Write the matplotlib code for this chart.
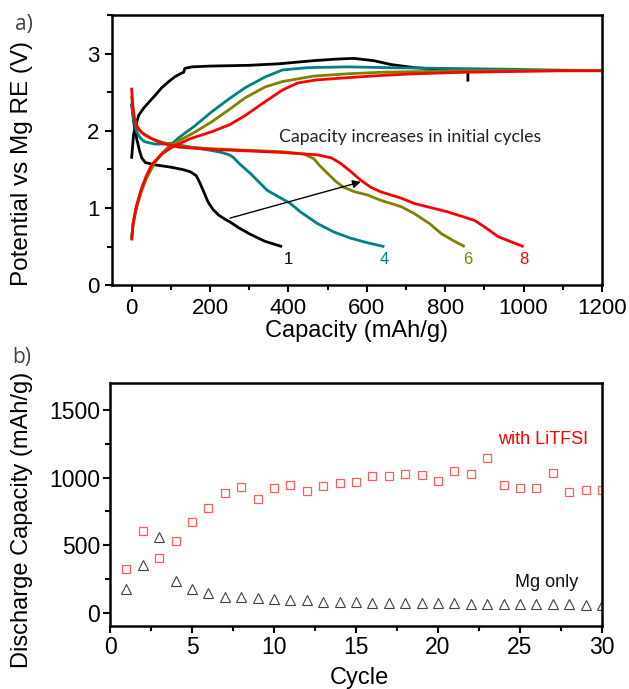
import numpy as np
import matplotlib.pyplot as plt
from matplotlib.ticker import MultipleLocator

# ============================================================
# DATA
# ============================================================

# ---- panel a : voltage profiles, capacity (mAh/g) / potential (V)

c1_charge_cap = [0, 3, 5, 10, 18, 30, 44, 60, 77, 95, 110, 128, 133, 136, 145, 154,
                 200, 300, 377, 420, 464, 520, 567, 618, 662, 721, 780, 858, 858]
c1_charge_v = [1.64, 1.82, 1.95, 2.06, 2.2, 2.29, 2.37, 2.46, 2.56, 2.64, 2.7, 2.75, 2.76,
               2.81, 2.82, 2.83, 2.84, 2.85, 2.87, 2.89, 2.91, 2.93, 2.94, 2.91, 2.86,
               2.82, 2.8, 2.79, 2.64]
c1_dis_cap = [0, 6, 13, 20, 26, 35, 60, 100, 130, 150, 165, 174, 185, 195, 208, 222,
              237, 251, 275, 303, 340, 384]
c1_dis_v = [2.35, 2.1, 1.9, 1.75, 1.65, 1.59, 1.56, 1.53, 1.5, 1.47, 1.42, 1.33, 1.2,
            1.08, 0.98, 0.91, 0.86, 0.82, 0.74, 0.66, 0.57, 0.5]

c4_charge_cap = [0, 4, 12, 25, 37, 60, 80, 100, 120, 160, 205, 250, 290, 341, 385,
                 450, 551, 650, 800, 950, 1064, 1200]
c4_charge_v = [0.6, 0.8, 1.0, 1.22, 1.38, 1.6, 1.72, 1.82, 1.91, 2.06, 2.25, 2.42, 2.56,
               2.7, 2.79, 2.82, 2.83, 2.82, 2.81, 2.8, 2.79, 2.78]
c4_dis_cap = [0, 5, 13, 22, 33, 59, 80, 103, 130, 162, 200, 230, 249, 259, 274, 303,
              346, 405, 431, 474, 516, 559, 602, 645]
c4_dis_v = [2.36, 2.15, 1.99, 1.91, 1.86, 1.83, 1.83, 1.84, 1.81, 1.78, 1.75, 1.72, 1.69,
            1.66, 1.58, 1.45, 1.23, 1.06, 0.95, 0.8, 0.69, 0.61, 0.55, 0.5]

c6_charge_cap = [0, 4, 12, 25, 37, 60, 80, 100, 120, 160, 205, 250, 290, 341, 385,
                 464, 550, 636, 750, 892, 1050, 1200]
c6_charge_v = [0.6, 0.8, 1.0, 1.22, 1.38, 1.6, 1.72, 1.8, 1.87, 1.98, 2.12, 2.28, 2.43,
               2.57, 2.64, 2.71, 2.74, 2.76, 2.77, 2.78, 2.78, 2.78]
c6_dis_cap = [0, 5, 12, 25, 51, 80, 120, 200, 290, 385, 440, 465, 480, 500, 520, 541,
              570, 602, 636, 687, 721, 760, 790, 820, 850]
c6_dis_v = [2.45, 2.2, 2.08, 1.98, 1.9, 1.85, 1.8, 1.77, 1.75, 1.73, 1.7, 1.64, 1.55,
            1.45, 1.35, 1.27, 1.21, 1.17, 1.1, 1.02, 0.93, 0.8, 0.67, 0.58, 0.5]

c8_charge_cap = [0, 4, 12, 25, 37, 51, 77, 103, 150, 205, 250, 290, 341, 385, 423,
                 470, 551, 640, 721, 850, 977, 1100, 1200]
c8_charge_v = [0.58, 0.8, 1.02, 1.25, 1.41, 1.56, 1.7, 1.79, 1.9, 1.99, 2.08, 2.2, 2.38,
               2.53, 2.62, 2.66, 2.69, 2.72, 2.74, 2.76, 2.77, 2.78, 2.78]
c8_dis_cap = [0, 3, 8, 18, 33, 55, 77, 120, 205, 300, 385, 474, 510, 533, 560, 585,
              610, 636, 687, 721, 807, 875, 905, 935, 970, 1000]
c8_dis_v = [2.56, 2.35, 2.12, 2.02, 1.95, 1.89, 1.84, 1.79, 1.76, 1.74, 1.72, 1.69, 1.65,
            1.58, 1.47, 1.36, 1.27, 1.21, 1.13, 1.06, 0.95, 0.84, 0.74, 0.63, 0.56, 0.5]

curve_labels = ["1", "4", "6", "8"]
curve_label_cap = [400, 644, 858, 1002]
curve_colors = ["#000000", "#008080", "#808000", "#ff0000"]

# ---- panel b : discharge capacity per cycle

cycles = list(range(1, 31))

litfsi_cap = [324, 604, 406, 530, 671, 777, 889, 933, 839, 921,
              948, 898, 938, 963, 970, 1008, 1012, 1025, 1017, 975,
              1049, 1025, 1144, 943, 921, 921, 1032, 896, 911, 911]

mg_only_cap = [176, 349, 562, 233, 176, 146, 114, 117, 104, 102,
               91, 91, 80, 78, 76, 74, 72, 70, 69, 68,
               67, 66, 65, 64, 63, 62, 61, 60, 59, 57]

# ============================================================
# FIGURE
# ============================================================

plt.rcParams['font.family'] = ['Liberation Sans', 'DejaVu Sans']

fig = plt.figure(figsize=(6.29, 6.89), dpi=100)

ax_a = fig.add_axes([0.178, 0.586, 0.779, 0.392])
ax_b = fig.add_axes([0.175, 0.0914, 0.782, 0.3526])

# ------------------------------------------------------------
# PANEL A
# ------------------------------------------------------------

curves = [
    (c1_charge_cap, c1_charge_v, c1_dis_cap, c1_dis_v),
    (c4_charge_cap, c4_charge_v, c4_dis_cap, c4_dis_v),
    (c6_charge_cap, c6_charge_v, c6_dis_cap, c6_dis_v),
    (c8_charge_cap, c8_charge_v, c8_dis_cap, c8_dis_v),
]

for (cc, cv, dc, dv), color in zip(curves, curve_colors):
    ax_a.plot(cc, cv, color=color, lw=2.0, solid_capstyle='butt')
    ax_a.plot(dc, dv, color=color, lw=2.0, solid_capstyle='butt')

for label, cap, color in zip(curve_labels, curve_label_cap, curve_colors):
    ax_a.text(cap, 0.34, label, color=color, fontsize=12,
              ha='center', va='center')

ax_a.annotate(
    "",
    xy=(585, 1.34),
    xytext=(251, 0.87),
    arrowprops=dict(arrowstyle='-|>', color='black', lw=1.0,
                    mutation_scale=12, shrinkA=0, shrinkB=0)
)

ax_a.text(377, 1.92, "Capacity increases in initial cycles",
          family=['Lato', 'DejaVu Sans'], fontsize=12.8,
          color='#222222', ha='left', va='center')

ax_a.set_xlim(-50, 1200)
ax_a.set_ylim(0, 3.5)
ax_a.xaxis.set_major_locator(MultipleLocator(200))
ax_a.xaxis.set_minor_locator(MultipleLocator(100))
ax_a.yaxis.set_major_locator(MultipleLocator(1))
ax_a.yaxis.set_minor_locator(MultipleLocator(0.5))

ax_a.set_xlabel("Capacity (mAh/g)", fontsize=17)
ax_a.set_ylabel("Potential vs Mg RE (V)", fontsize=17.5)
ax_a.xaxis.set_label_coords(0.5, -0.128)
ax_a.yaxis.set_label_coords(-0.161, 0.45)

ax_a.tick_params(axis='both', which='major', labelsize=16,
                 direction='out', length=5, width=1.5, pad=4)
ax_a.tick_params(axis='both', which='minor',
                 direction='out', length=3.5, width=1.5)

# ------------------------------------------------------------
# PANEL B
# ------------------------------------------------------------

ax_b.plot(cycles, litfsi_cap, linestyle='none', marker='s',
          markersize=5.3, markerfacecolor='none',
          markeredgecolor='#ff5a5a', markeredgewidth=0.9)

ax_b.plot(cycles, mg_only_cap, linestyle='none', marker='^',
          markersize=7, markerfacecolor='none',
          markeredgecolor='#404040', markeredgewidth=0.8)

ax_b.text(23.66, 1285, "with LiTFSI", color='#ff0000', fontsize=13,
          ha='left', va='center')
ax_b.text(24.7, 223, "Mg only", color='#111111', fontsize=13,
          ha='left', va='center')

ax_b.set_xlim(0, 30)
ax_b.set_ylim(-100, 1700)
ax_b.xaxis.set_major_locator(MultipleLocator(5))
ax_b.xaxis.set_minor_locator(MultipleLocator(2.5))
ax_b.yaxis.set_major_locator(MultipleLocator(500))
ax_b.yaxis.set_minor_locator(MultipleLocator(250))

ax_b.set_xlabel("Cycle", fontsize=17)
ax_b.set_ylabel("Discharge Capacity (mAh/g)", fontsize=17)
ax_b.xaxis.set_label_coords(0.506, -0.17)
ax_b.yaxis.set_label_coords(-0.157, 0.436)

ax_b.tick_params(axis='both', which='major', labelsize=16.5,
                 direction='out', length=5, width=1.5, pad=2)
ax_b.tick_params(axis='both', which='minor',
                 direction='out', length=3.5, width=1.5)

# ------------------------------------------------------------
# COMMON STYLE
# ------------------------------------------------------------

for ax in (ax_a, ax_b):
    for spine in ax.spines.values():
        spine.set_linewidth(1.8)

fig.text(0.024, 0.964, "a)", family=['Open Sans', 'DejaVu Sans'],
         fontsize=15, color='#404040', ha='left', va='center')
fig.text(0.02, 0.481, "b)", family=['Open Sans', 'DejaVu Sans'],
         fontsize=15, color='#404040', ha='left', va='center')

fig.savefig("out.png", dpi=100)
